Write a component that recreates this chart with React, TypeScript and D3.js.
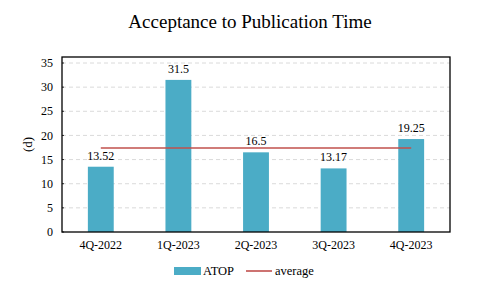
import React from "react";
import * as d3 from "d3";

const categories = ["4Q-2022", "1Q-2023", "2Q-2023", "3Q-2023", "4Q-2023"];
const atop = [13.52, 31.5, 16.5, 13.17, 19.25];
const average = [17.4, 17.4, 17.4, 17.4, 17.4];
const yTicks = [0, 5, 10, 15, 20, 25, 30, 35];

const W = 483, H = 296;
const L = 62, R = 450, T = 57, B = 232;
const FONT = "'Liberation Serif', 'Times New Roman', serif";

export default function App() {
  const x = d3.scaleBand<string>().domain(categories).range([L, R]).paddingInner(0).paddingOuter(0);
  const y = d3.scaleLinear().domain([0, 35]).range([B, 63]);
  const bw = x.bandwidth() / 3;
  const cx = (c: string) => (x(c) as number) + x.bandwidth() / 2;
  const line = d3.line<number>().x((_, i) => cx(categories[i])).y((d) => y(d));
  return (
    <svg width={W} height={H} style={{ position: "absolute", left: 0, top: 0, background: "#fff" }} fontFamily={FONT}>
      <text x={250} y={28} textAnchor="middle" fontSize={19}>Acceptance to Publication Time</text>
      {yTicks.map((t) => (
        <g key={t}>
          {t > 0 && <line x1={L} x2={R} y1={y(t)} y2={y(t)} stroke="#d0d0d0" strokeDasharray="4,3" strokeWidth={0.8} />}
          <line x1={L} x2={L + 2} y1={y(t)} y2={y(t)} stroke="#000" strokeWidth={0.8} />
          <text x={53} y={y(t)} dy="0.35em" textAnchor="end" fontSize={12}>{t}</text>
        </g>
      ))}
      {categories.map((c, i) => (
        <g key={c}>
          <rect x={cx(c) - bw / 2} y={y(atop[i])} width={bw} height={y(0) - y(atop[i])} fill="#4BACC6" />
          <text x={cx(c)} y={y(atop[i]) - 7} textAnchor="middle" fontSize={12}>{atop[i]}</text>
          <text x={cx(c)} y={249} textAnchor="middle" fontSize={12}>{c}</text>
        </g>
      ))}
      <path d={line(average) || ""} fill="none" stroke="#C0504D" strokeWidth={1.6} />
      <rect x={L} y={T} width={R - L} height={B - T} fill="none" stroke="#000" strokeWidth={1.3} />
      <text transform={`translate(27,${(T + B) / 2}) rotate(-90)`} textAnchor="middle" dy="0.35em" fontSize={13}>(d)</text>
      <rect x={174} y={267} width={27} height={8} fill="#4BACC6" />
      <text x={203} y={275} fontSize={12.5}>ATOP</text>
      <line x1={246} x2={272} y1={271} y2={271} stroke="#C0504D" strokeWidth={1.6} />
      <text x={275} y={275} fontSize={12.5}>average</text>
    </svg>
  );
}
